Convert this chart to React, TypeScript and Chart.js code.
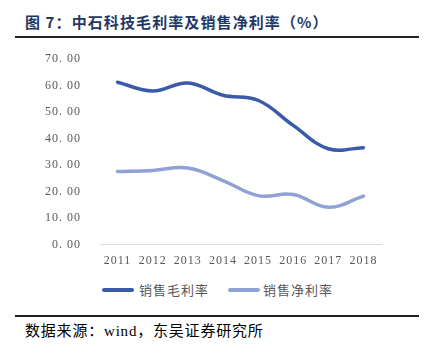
import React, { useEffect, useRef } from 'react';
import { Chart, registerables } from 'chart.js';

Chart.register(...registerables);

const years = ['2011', '2012', '2013', '2014', '2015', '2016', '2017', '2018'];
const grossMargin = [61.3, 58.0, 61.0, 56.4, 54.5, 45.0, 36.2, 36.6];
const netMargin = [27.6, 28.0, 28.9, 24.2, 18.5, 18.9, 14.1, 18.3];
const yTickValues = [0, 10, 20, 30, 40, 50, 60, 70];
const yTickLabels = ['0. 00', '10. 00', '20. 00', '30. 00', '40. 00', '50. 00', '60. 00', '70. 00'];
const seriesNames = ['销售毛利率', '销售净利率'];
const seriesColors = ['#3A5BA9', '#8FA2D6'];
const titleText = '图 7：中石科技毛利率及销售净利率（%）';
const sourceText = '数据来源：wind，东吴证券研究所';

const spacingPlugin = {
  id: 'spacing',
  beforeDraw(c: any) {
    c.ctx.letterSpacing = '1px';
  },
  afterDraw(c: any) {
    c.ctx.letterSpacing = '0px';
  },
};

export default function App() {
  const ref = useRef<HTMLCanvasElement>(null);

  useEffect(() => {
    if (!ref.current) return;
    const chart = new Chart(ref.current, {
      type: 'line',
      data: {
        labels: years,
        datasets: [
          {
            label: seriesNames[0],
            data: grossMargin,
            borderColor: seriesColors[0],
            backgroundColor: seriesColors[0],
            borderWidth: 3.5,
            borderCapStyle: 'round',
            pointRadius: 0,
            tension: 0.4,
          },
          {
            label: seriesNames[1],
            data: netMargin,
            borderColor: seriesColors[1],
            backgroundColor: seriesColors[1],
            borderWidth: 3.5,
            borderCapStyle: 'round',
            pointRadius: 0,
            tension: 0.4,
          },
        ],
      },
      options: {
        animation: false,
        responsive: false,
        maintainAspectRatio: false,
        layout: { padding: { left: 0, right: 45, top: 19, bottom: 3 } },
        plugins: { legend: { display: false }, tooltip: { enabled: false } },
        scales: {
          x: {
            offset: true,
            grid: { display: false, drawTicks: false },
            border: { display: true, color: '#D9D9D9', width: 1 },
            ticks: {
              padding: 9,
              color: '#595959',
              font: { family: 'Liberation Serif', size: 12 },
              maxRotation: 0,
            },
          },
          y: {
            min: 0,
            max: 70,
            afterFit(scale: any) {
              scale.width = 100;
            },
            afterBuildTicks(scale: any) {
              scale.ticks = yTickValues.map((v) => ({ value: v }));
            },
            grid: { display: false, drawTicks: false },
            border: { display: false },
            ticks: {
              padding: 19,
              color: '#595959',
              font: { family: 'Liberation Serif', size: 12 },
              callback: (v: any) => yTickLabels[yTickValues.indexOf(Number(v))],
            },
          },
        },
      },
      plugins: [spacingPlugin],
    } as any);
    return () => chart.destroy();
  }, []);

  const legendItem = (i: number, lineLeft: number, textLeft: number) => (
    <>
      <div
        style={{
          position: 'absolute',
          left: lineLeft,
          top: 288,
          width: 32,
          height: 4,
          borderRadius: 2,
          background: seriesColors[i],
        }}
      />
      <div
        style={{
          position: 'absolute',
          left: textLeft,
          top: 281,
          fontFamily: '"Noto Sans CJK SC", sans-serif',
          fontSize: 13,
          lineHeight: '18px',
          letterSpacing: '1px',
          color: '#595959',
          whiteSpace: 'nowrap',
        }}
      >
        {seriesNames[i]}
      </div>
    </>
  );

  return (
    <div
      style={{
        position: 'absolute',
        left: 0,
        top: 0,
        width: 426,
        height: 353,
        background: '#fff',
        overflow: 'hidden',
      }}
    >
      <div
        style={{
          position: 'absolute',
          left: 25,
          top: 11,
          fontFamily: '"Noto Sans CJK SC", sans-serif',
          fontWeight: 700,
          fontSize: 15,
          lineHeight: '22px',
          letterSpacing: '1.1px',
          color: '#1F3864',
          whiteSpace: 'nowrap',
        }}
      >
        {titleText}
      </div>
      <div style={{ position: 'absolute', left: 15, top: 36, width: 404, height: 2, background: '#222' }} />
      <canvas
        ref={ref}
        width={426}
        height={247}
        style={{ position: 'absolute', left: 0, top: 33, width: 426, height: 247 }}
      />
      {legendItem(0, 102, 139)}
      {legendItem(1, 228, 263)}
      <div style={{ position: 'absolute', left: 15, top: 315, width: 404, height: 1.5, background: '#222' }} />
      <div
        style={{
          position: 'absolute',
          left: 25,
          top: 321,
          fontFamily: '"Liberation Serif", "Noto Sans CJK SC", serif',
          fontSize: 15,
          lineHeight: '20px',
          letterSpacing: '0.8px',
          color: '#000',
          whiteSpace: 'nowrap',
        }}
      >
        {sourceText}
      </div>
    </div>
  );
}
